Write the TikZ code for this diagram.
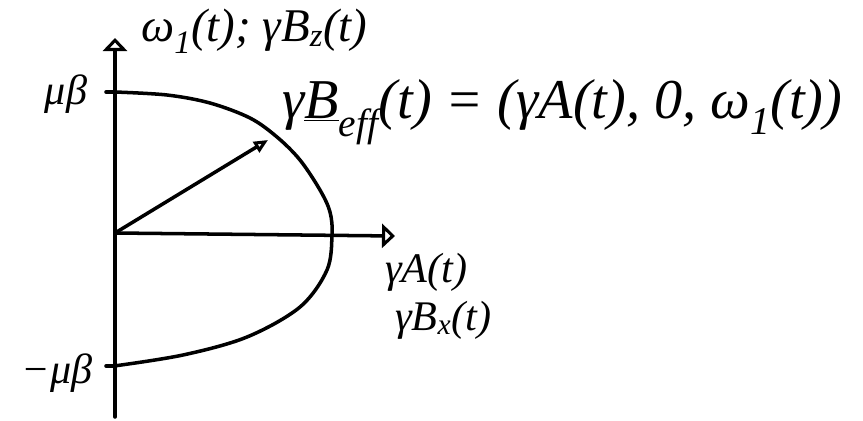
\documentclass[tikz,border=0pt]{standalone}
\usepackage{fontspec}
\setmainfont{Liberation Serif}
\usetikzlibrary{arrows.meta}
\begin{document}
\begin{tikzpicture}[x=0.03cm,y=-0.03cm,
  ink/.style={line width=3pt,line cap=round,line join=round},
  axisarrow/.style={ink,-{Triangle[open,length=13*0.03cm,width=24*0.03cm,line width=2.6pt]}},
  vecarrow/.style={ink,-{Triangle[open,length=14*0.03cm,width=12*0.03cm,line width=2.6pt]}},
  lbl/.style={inner sep=0pt,font=\fontsize{36}{40}\selectfont\itshape},
  toplbl/.style={inner sep=0pt,font=\fontsize{40}{44}\selectfont\itshape},
  biglbl/.style={inner sep=0pt,font=\fontsize{48}{52}\selectfont\itshape}]
\useasboundingbox (0,0) rectangle (863,421);
% axes
\coordinate (O) at (115,233);
\coordinate (ybot) at (115,417);
\coordinate (ytop) at (115,38);
\coordinate (xtip) at (395,236);
\coordinate (vtip) at (268,140);
\coordinate (mtop) at (115,92);
\coordinate (mbot) at (114,366);
\draw[axisarrow] (ybot) -- (ytop);
\draw[axisarrow] (O) -- (xtip);
% ticks
\draw[ink] (106,92) -- (mtop);
\draw[ink] (106,366) -- (mbot);
% curve
\draw[ink] plot[smooth,tension=0.55] coordinates {(mtop) (167,95) (210,103) (250,118) (277,137) (300,160) (320,190) (330,212) (332,235) (327,270) (300,307) (247,337) (183,355) (mbot)};
% effective field vector
\draw[vecarrow] (O) -- (vtip);
% labels
\node[toplbl,anchor=west] (yl) at (141,31) {ω\textsubscript{1}(t); γB\textsubscript{z}(t)};
\node[lbl] (mu) at (66,94) {μβ};
\node[lbl] (mmu) at (57,373) {−μβ};
\node[biglbl,anchor=west] (beff) at (282,112) {γ\underline{B}\textsubscript{\raisebox{-2pt}{eff}}(t) = (γA(t), 0, ω\textsubscript{1}(t))};
\node[lbl,anchor=west] (ga) at (385,272) {γA(t)};
\node[lbl,anchor=west] (gbx) at (395,320) {γB\textsubscript{x}(t)};
\end{tikzpicture}
\end{document}
